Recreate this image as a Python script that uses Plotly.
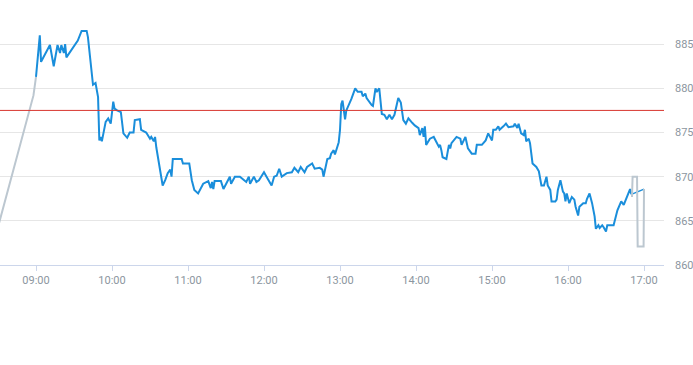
import plotly.graph_objects as go

DAY = "2024-01-15 "

# Regular session (blue)
session_times = [
    "09:00", "09:03", "09:04", "09:11", "09:14", "09:17", "09:19", "09:20", "09:22", "09:23",
    "09:24", "09:33", "09:36", "09:40", "09:41", "09:45", "09:47", "09:48", "09:49", "09:50",
    "09:51", "09:52", "09:55", "09:57", "09:59", "10:01", "10:02", "10:04", "10:07", "10:09",
    "10:12", "10:14", "10:17", "10:18", "10:22", "10:23", "10:27", "10:30", "10:31", "10:33",
    "10:34", "10:35", "10:40", "10:42", "10:44", "10:46", "10:47", "10:48", "10:55", "10:56",
    "11:01", "11:03", "11:05", "11:08", "11:12", "11:16", "11:18", "11:19", "11:20", "11:21",
    "11:26", "11:28", "11:33", "11:34", "11:37", "11:41", "11:46", "11:48", "11:49", "11:52",
    "11:54", "11:56", "12:00", "12:02", "12:06", "12:08", "12:10", "12:12", "12:14", "12:18",
    "12:22", "12:24", "12:27", "12:29", "12:32", "12:34", "12:38", "12:40", "12:44", "12:46",
    "12:47", "12:50", "12:52", "12:53", "12:55", "12:56", "12:59", "13:00", "13:01", "13:02",
    "13:04", "13:05", "13:09", "13:12", "13:14", "13:17", "13:18", "13:20", "13:21", "13:25",
    "13:26", "13:28", "13:29", "13:31", "13:33", "13:35", "13:37", "13:39", "13:41", "13:43",
    "13:46", "13:48", "13:50", "13:52", "13:54", "13:57", "13:59", "14:02", "14:03", "14:05",
    "14:06", "14:07", "14:08", "14:11", "14:14", "14:18", "14:19", "14:20", "14:21", "14:24",
    "14:26", "14:27", "14:28", "14:32", "14:35", "14:36", "14:39", "14:41", "14:44", "14:47",
    "14:48", "14:52", "14:55", "14:57", "15:00", "15:01", "15:03", "15:05", "15:06", "15:09",
    "15:11", "15:13", "15:17", "15:18", "15:20", "15:21", "15:23", "15:25", "15:26", "15:27",
    "15:29", "15:30", "15:32", "15:35", "15:37", "15:39", "15:41", "15:43", "15:44", "15:46",
    "15:47", "15:50", "15:51", "15:52", "15:54", "15:56", "15:57", "15:58", "15:59", "16:01",
    "16:03", "16:05", "16:06", "16:08", "16:09", "16:12", "16:14", "16:15", "16:17", "16:19",
    "16:21", "16:22", "16:24", "16:25", "16:27", "16:28", "16:30", "16:31", "16:36", "16:39",
    "16:42", "16:44", "16:46", "16:47", "16:49", "16:50", "17:00",
]
session_prices = [
    881.3, 886.0, 883.0, 884.9, 882.5, 884.9, 884.0, 884.9, 884.0, 885.0,
    883.5, 885.4, 886.5, 886.5, 885.8, 880.4, 880.6, 879.8, 879.0, 874.1,
    874.5, 874.0, 876.2, 876.6, 876.0, 878.5, 877.7, 877.5, 877.3, 874.9,
    874.4, 875.0, 875.0, 876.4, 876.5, 875.3, 875.0, 874.3, 874.5, 874.0,
    874.5, 873.3, 869.0, 869.6, 870.4, 870.8, 870.0, 872.0, 872.0, 871.5,
    871.5, 869.6, 868.5, 868.1, 869.2, 869.5, 868.7, 869.4, 868.6, 869.5,
    869.5, 868.6, 870.0, 869.2, 870.0, 870.0, 869.4, 870.0, 869.2, 870.0,
    869.4, 869.6, 870.5, 870.0, 869.0, 870.0, 870.1, 870.9, 870.0, 870.4,
    870.5, 871.0, 870.5, 871.1, 870.5, 871.1, 871.5, 870.9, 871.0, 870.8,
    870.0, 872.0, 872.1, 872.6, 873.0, 872.5, 873.9, 875.3, 878.2, 878.6,
    876.5, 877.5, 878.8, 880.0, 879.6, 879.6, 879.1, 879.4, 878.9, 878.1,
    878.0, 880.0, 879.6, 880.0, 877.1, 877.0, 876.5, 877.0, 876.5, 877.0,
    878.9, 878.4, 876.4, 876.0, 876.6, 876.1, 875.8, 875.5, 874.7, 875.5,
    874.5, 875.7, 873.6, 874.3, 874.5, 873.4, 873.6, 873.0, 872.2, 872.0,
    873.6, 873.2, 873.8, 874.5, 874.3, 873.6, 874.5, 873.2, 872.6, 872.6,
    873.6, 873.6, 874.1, 874.9, 874.1, 875.3, 875.3, 875.7, 875.3, 875.7,
    876.0, 875.6, 875.7, 876.0, 875.5, 876.0, 874.9, 874.7, 875.3, 874.0,
    874.3, 873.8, 871.5, 871.1, 870.6, 869.0, 869.0, 870.0, 869.0, 868.5,
    867.2, 867.2, 867.4, 868.5, 869.6, 868.3, 868.1, 867.2, 868.1, 867.0,
    867.7, 867.4, 866.6, 865.6, 866.6, 867.0, 867.0, 867.5, 868.1, 867.0,
    865.5, 864.1, 864.5, 864.2, 864.5, 864.3, 863.8, 864.5, 864.5, 866.2,
    867.2, 866.8, 867.5, 867.7, 868.6, 868.0, 868.6,
]

# Pre-market and after-hours trades (grey)
pre_times = ["08:30:00", "08:58:00", "09:00:00"]
pre_prices = [864.3, 879.2, 881.3]
post_times = ["16:50:30", "16:51:00", "16:54:30", "16:55:00", "16:59:40", "17:00:00"]
post_prices = [867.7, 870.0, 870.0, 862.1, 862.1, 868.6]

previous_close = 877.5
y_ticks = [860, 865, 870, 875, 880, 885]
x_ticks = ["09:00", "10:00", "11:00", "12:00", "13:00", "14:00", "15:00", "16:00", "17:00"]

BLUE = "#1a8edb"
GREY = "#bcc7d0"
RED = "#d8352f"
LABEL = "#8c96a0"

fig = go.Figure()
fig.add_trace(go.Scatter(
    x=[DAY + t for t in pre_times], y=pre_prices, mode="lines",
    line=dict(color=GREY, width=2), hoverinfo="skip"))
fig.add_trace(go.Scatter(
    x=[DAY + t for t in session_times[:-1]], y=session_prices[:-1], mode="lines",
    line=dict(color=BLUE, width=2)))
fig.add_trace(go.Scatter(
    x=[DAY + t for t in session_times[-2:]], y=session_prices[-2:], mode="lines",
    line=dict(color=BLUE, width=1.4)))
fig.add_trace(go.Scatter(
    x=[DAY + t for t in post_times], y=post_prices, mode="lines",
    line=dict(color=GREY, width=2), hoverinfo="skip"))

fig.add_hline(y=previous_close, line=dict(color=RED, width=1))

fig.update_layout(
    width=693, height=365,
    margin=dict(l=0, r=29, t=0, b=100),
    paper_bgcolor="white", plot_bgcolor="white",
    showlegend=False,
    font=dict(family="Roboto", size=11, color=LABEL),
    xaxis=dict(
        type="date",
        range=[DAY + "08:31:35", DAY + "17:15:47"],
        tickvals=[DAY + t for t in x_ticks],
        ticktext=x_ticks,
        showgrid=False, zeroline=False,
        showline=True, linecolor="#ccd6eb", linewidth=1,
        ticks="outside", ticklen=5, tickcolor="#ccd6eb", tickwidth=1,
        tickfont=dict(size=11, color=LABEL),
    ),
    yaxis=dict(
        side="right",
        range=[860, 890],
        tickvals=y_ticks,
        showgrid=True, gridcolor="#e6e6e6", gridwidth=1,
        zeroline=False, showline=False, ticks="",
        ticklabelstandoff=10,
        tickfont=dict(size=11, color=LABEL),
    ),
)

fig.write_html(
    "out.html",
    config={"displayModeBar": False},
    post_script="document.body.style.margin='0';document.body.style.overflow='hidden';",
)
